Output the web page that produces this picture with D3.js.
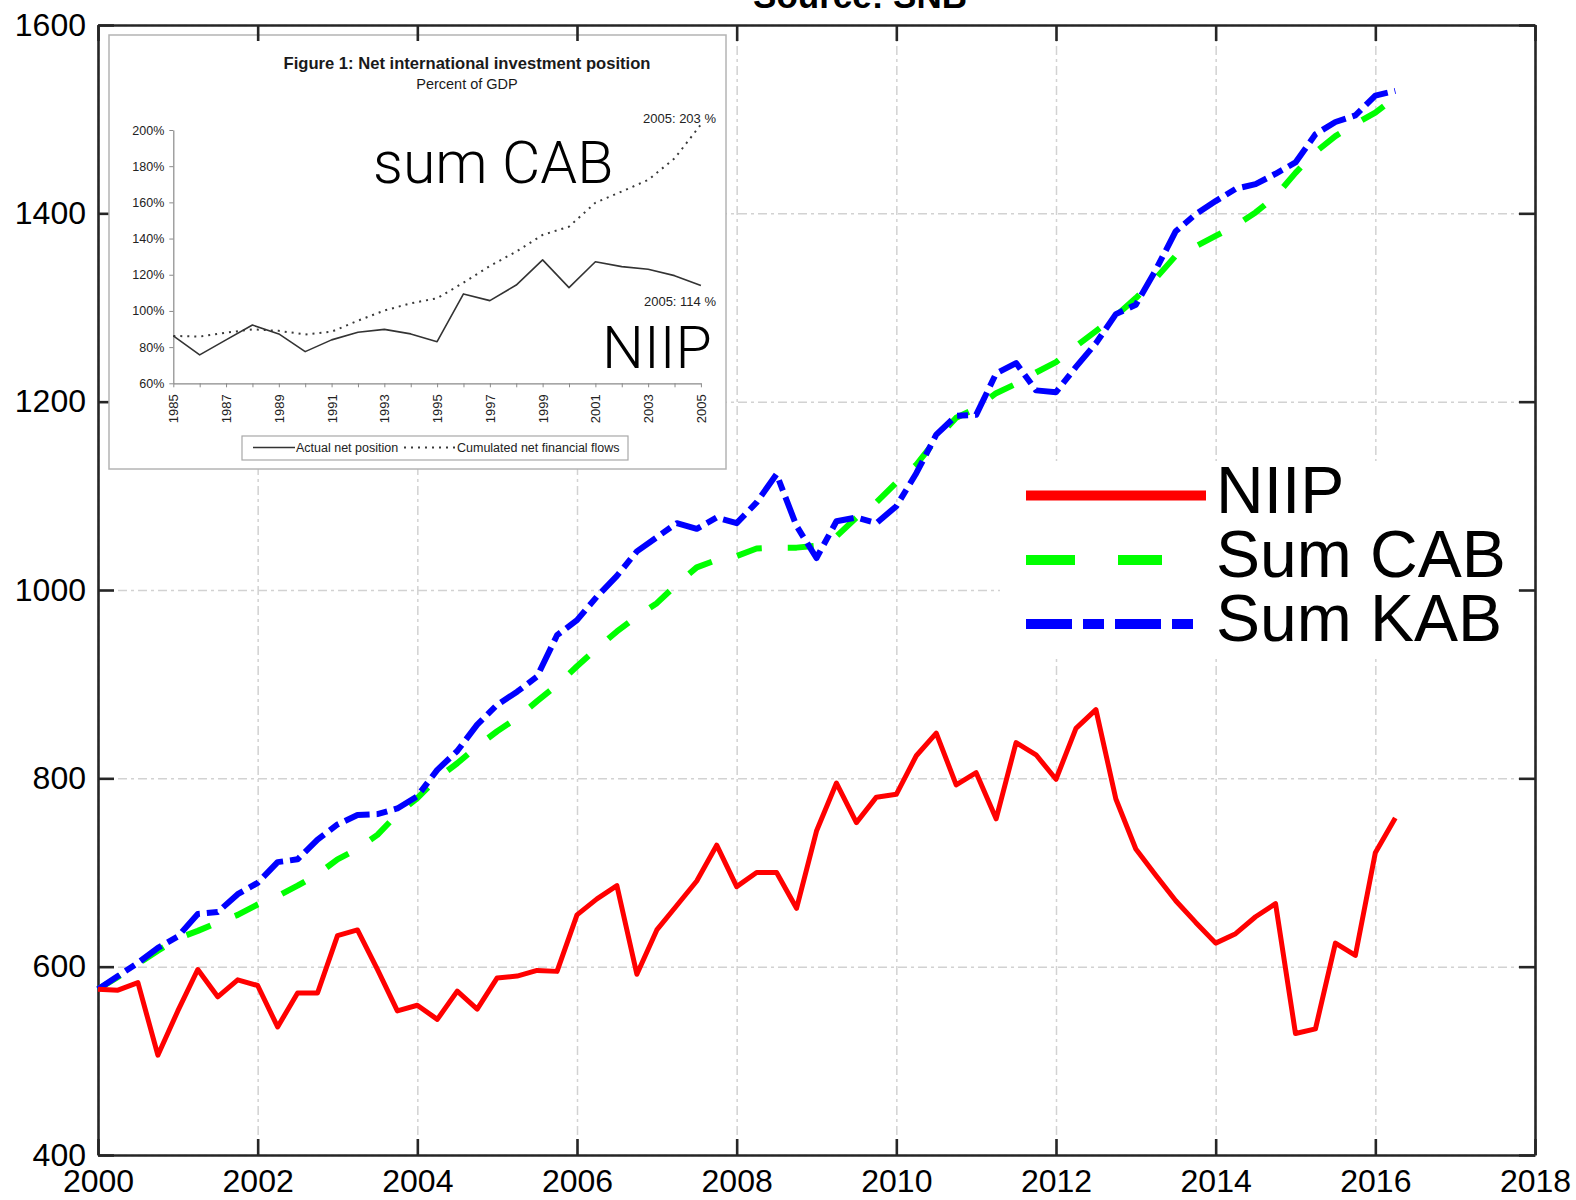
<!DOCTYPE html>
<html>
<head>
<meta charset="utf-8">
<script src="https://cdn.jsdelivr.net/npm/d3@7"></script>
<style>
  body { margin: 0; background: #fff; }
  svg { display: block; }
</style>
</head>
<body>
<svg id="chart" width="1576" height="1200"></svg>
<script>
// ---- Main series: quarterly, CHF bn ----
const quarters = [
  2000.00, 2000.25, 2000.50, 2000.75, 2001.00, 2001.25, 2001.50, 2001.75,
  2002.00, 2002.25, 2002.50, 2002.75, 2003.00, 2003.25, 2003.50, 2003.75,
  2004.00, 2004.25, 2004.50, 2004.75, 2005.00, 2005.25, 2005.50, 2005.75,
  2006.00, 2006.25, 2006.50, 2006.75, 2007.00, 2007.25, 2007.50, 2007.75,
  2008.00, 2008.25, 2008.50, 2008.75, 2009.00, 2009.25, 2009.50, 2009.75,
  2010.00, 2010.25, 2010.50, 2010.75, 2011.00, 2011.25, 2011.50, 2011.75,
  2012.00, 2012.25, 2012.50, 2012.75, 2013.00, 2013.25, 2013.50, 2013.75,
  2014.00, 2014.25, 2014.50, 2014.75, 2015.00, 2015.25, 2015.50, 2015.75,
  2016.00, 2016.25
];
const niip = [
  576, 575, 583, 506, 553, 597, 568, 586,
  580, 536, 572, 572, 633, 639, 597, 553,
  559, 544, 574, 555, 588, 590, 596, 595,
  655, 672, 686, 592, 639, 665, 691, 729,
  685, 700, 700, 662, 744, 795, 753, 780,
  783, 824, 848, 793, 806, 757, 838, 825,
  799, 853, 873, 778, 725, 697, 670, 647,
  625, 635, 653, 667, 529, 534, 625, 612,
  721, 758
];
const sumCAB = [
  576, 589, 603, 617, 630, 638, 647, 655,
  666, 675, 686, 698, 714, 725, 740, 762,
  779, 800, 816, 834, 850, 864, 882, 899,
  919, 938, 956, 972, 986, 1006, 1024, 1032,
  1036, 1044, 1045, 1045, 1047, 1057, 1077, 1093,
  1114, 1133, 1160, 1183, 1193, 1209, 1219, 1231,
  1242, 1259, 1275, 1291, 1310, 1331, 1355, 1365,
  1376, 1387, 1401, 1418, 1443, 1465, 1482, 1495,
  1507, 1523
];
const sumKAB = [
  576, 590, 604, 620, 632, 656, 658, 677,
  689, 711, 714, 735, 751, 761, 762, 768,
  781, 809, 829, 857, 878, 892, 908, 952,
  968, 993, 1015, 1041, 1056, 1071, 1065, 1077,
  1071, 1093, 1123, 1068, 1034, 1073, 1077, 1071,
  1089, 1124, 1165, 1185, 1186, 1230, 1241, 1212,
  1210, 1237, 1262, 1293, 1303, 1340, 1381, 1399,
  1413, 1426, 1431, 1442, 1454, 1484, 1497, 1504,
  1525, 1530
];
const seriesNames = ["NIIP", "Sum CAB", "Sum KAB"];
const xTicks = [2000, 2002, 2004, 2006, 2008, 2010, 2012, 2014, 2016, 2018];
const yTicks = [400, 600, 800, 1000, 1200, 1400, 1600];
const titleText = "Source: SNB";

// ---- Inset figure: percent of GDP, annual ----
const insetYears = [1985, 1986, 1987, 1988, 1989, 1990, 1991, 1992, 1993, 1994, 1995,
                    1996, 1997, 1998, 1999, 2000, 2001, 2002, 2003, 2004, 2005];
const insetActual = [86.2, 75.7, 84.0, 92.2, 87.3, 77.5, 84.0, 88.2, 89.8, 87.3, 83.0,
                     109.4, 105.7, 114.3, 128.2, 112.9, 127.2, 124.5, 123.0, 119.5, 114];
const insetCumulated = [86.2, 85.8, 88.0, 89.8, 89.0, 87.0, 88.5, 94.6, 100.2, 104.2, 107.0,
                        115.6, 124.8, 132.8, 142.0, 146.6, 159.8, 166.0, 172.4, 184.3, 203];
const insetYTicks = [60, 80, 100, 120, 140, 160, 180, 200];
const insetYearLabels = [1985, 1987, 1989, 1991, 1993, 1995, 1997, 1999, 2001, 2003, 2005];
const insetTitle = "Figure 1: Net international investment position";
const insetSubtitle = "Percent of GDP";
const insetSeriesNames = ["Actual net position", "Cumulated net financial flows"];
const insetNotes = ["2005: 203 %", "2005: 114 %"];
const overlayNotes = ["sum CAB", "NIIP"];

(function draw() {
  const FONT = "'Liberation Sans', Arial, Helvetica, sans-serif";
  const LIGHT = "Roboto, 'Open Sans', 'Liberation Sans', sans-serif";
  const pl = 98, pr = 1535, pt = 25, pb = 1155;
  const svg = d3.select("#chart");

  const x = d3.scaleLinear().domain([2000, 2018]).range([pl, pr]);
  const y = d3.scaleLinear().domain([400, 1600]).range([pb, pt]);

  // dashed grid
  const grid = svg.append("g").attr("class", "grid");
  grid.append("g")
    .attr("transform", `translate(0,${pb})`)
    .call(d3.axisBottom(x).tickValues(xTicks).tickSize(-(pb - pt)).tickFormat(""));
  grid.append("g")
    .attr("transform", `translate(${pl},0)`)
    .call(d3.axisLeft(y).tickValues(yTicks).tickSize(-(pr - pl)).tickFormat(""));
  grid.selectAll(".domain").remove();
  grid.selectAll("line")
    .attr("stroke", "#d2d2d2")
    .attr("stroke-width", 1.5)
    .attr("stroke-dasharray", "9,4,3,4");

  function styleAxis(g) {
    g.select(".domain").attr("stroke", "#262626").attr("stroke-width", 2.6);
    g.selectAll(".tick line").attr("stroke", "#262626").attr("stroke-width", 2.6);
    g.selectAll(".tick text").attr("fill", "#000").style("font-family", FONT).style("font-size", "32px");
  }
  svg.append("g")
    .attr("transform", `translate(0,${pb})`)
    .call(d3.axisBottom(x).tickValues(xTicks).tickFormat(d3.format("d"))
      .tickSizeInner(-16).tickSizeOuter(0).tickPadding(14))
    .call(styleAxis);
  svg.append("g")
    .attr("transform", `translate(${pl},0)`)
    .call(d3.axisLeft(y).tickValues(yTicks).tickFormat(d3.format("d"))
      .tickSizeInner(-16).tickSizeOuter(0).tickPadding(12))
    .call(styleAxis);
  svg.append("g")
    .attr("transform", `translate(${pr},0)`)
    .call(d3.axisRight(y).tickValues(yTicks).tickFormat("")
      .tickSizeInner(-16).tickSizeOuter(0))
    .call(styleAxis);

  // ---- Inset figure ----
  const inset = svg.append("g").attr("class", "inset");
  inset.append("rect")
    .attr("x", 109).attr("y", 35).attr("width", 617).attr("height", 434)
    .attr("fill", "#fff").attr("stroke", "#b4b4b4").attr("stroke-width", 1.5);

  inset.append("text")
    .attr("x", 467).attr("y", 69).attr("text-anchor", "middle")
    .style("font-family", FONT).style("font-size", "16.6px").style("font-weight", "bold")
    .attr("fill", "#1a1a1a").text(insetTitle);
  inset.append("text")
    .attr("x", 467).attr("y", 89).attr("text-anchor", "middle")
    .style("font-family", FONT).style("font-size", "14.5px")
    .attr("fill", "#1a1a1a").text(insetSubtitle);

  const ix = d3.scaleLinear().domain([1985, 2005]).range([173.3, 700.9]);
  const iy = d3.scaleLinear().domain([60, 200]).range([383.3, 130]);

  const iyAxis = inset.append("g")
    .attr("transform", `translate(${ix(1985)},0)`)
    .call(d3.axisLeft(iy).tickValues(insetYTicks).tickFormat(d => d + "%")
      .tickSizeInner(4).tickSizeOuter(0).tickPadding(5));
  const ixAxis = inset.append("g")
    .attr("transform", `translate(0,${iy(60)})`)
    .call(d3.axisBottom(ix).tickValues(insetYears)
      .tickFormat(d => insetYearLabels.includes(d) ? String(d) : "")
      .tickSizeInner(4).tickSizeOuter(0));
  [iyAxis, ixAxis].forEach(g => {
    g.select(".domain").attr("stroke", "#8a8a8a").attr("stroke-width", 1.2);
    g.selectAll(".tick line").attr("stroke", "#8a8a8a").attr("stroke-width", 1);
    g.selectAll(".tick text").attr("fill", "#222").style("font-family", FONT).style("font-size", "12.5px");
  });
  ixAxis.selectAll(".tick text")
    .attr("transform", "rotate(-90)")
    .attr("text-anchor", "end")
    .attr("x", -11).attr("y", 0).attr("dy", "0.35em")
    .style("font-size", "13px");

  const iline = d3.line().x((d, i) => ix(insetYears[i])).y(d => iy(d));
  inset.append("path").datum(insetCumulated)
    .attr("d", iline).attr("fill", "none")
    .attr("stroke", "#3a3a3a").attr("stroke-width", 2)
    .attr("stroke-dasharray", "2,5");
  inset.append("path").datum(insetActual)
    .attr("d", iline).attr("fill", "none")
    .attr("stroke", "#333").attr("stroke-width", 1.6)
    .attr("stroke-linejoin", "round");

  inset.append("text").attr("x", 716).attr("y", 123).attr("text-anchor", "end")
    .style("font-family", FONT).style("font-size", "13px").attr("fill", "#222").text(insetNotes[0]);
  inset.append("text").attr("x", 716).attr("y", 306).attr("text-anchor", "end")
    .style("font-family", FONT).style("font-size", "13px").attr("fill", "#222").text(insetNotes[1]);

  // inset legend
  inset.append("rect").attr("x", 242).attr("y", 436).attr("width", 386).attr("height", 24)
    .attr("fill", "#fff").attr("stroke", "#a8a8a8").attr("stroke-width", 1.2);
  inset.append("line").attr("x1", 253).attr("x2", 295).attr("y1", 447.5).attr("y2", 447.5)
    .attr("stroke", "#333").attr("stroke-width", 1.6);
  inset.append("text").attr("x", 296).attr("y", 452)
    .style("font-family", FONT).style("font-size", "12.5px").attr("fill", "#222").text(insetSeriesNames[0]);
  inset.append("line").attr("x1", 404).attr("x2", 456).attr("y1", 447.5).attr("y2", 447.5)
    .attr("stroke", "#3a3a3a").attr("stroke-width", 2).attr("stroke-dasharray", "2,5");
  inset.append("text").attr("x", 457).attr("y", 452)
    .style("font-family", FONT).style("font-size", "12.5px").attr("fill", "#222").text(insetSeriesNames[1]);

  // hand labels written over the inset
  inset.append("text").attr("x", 373).attr("y", 183)
    .style("font-family", LIGHT).style("font-weight", 300).style("font-size", "59px")
    .attr("fill", "#000").text(overlayNotes[0]);
  inset.append("text").attr("x", 602).attr("y", 368)
    .style("font-family", LIGHT).style("font-weight", 300).style("font-size", "59px")
    .attr("fill", "#000").text(overlayNotes[1]);

  // top axis sits over the inset frame
  svg.append("g")
    .attr("transform", `translate(0,${pt})`)
    .call(d3.axisTop(x).tickValues(xTicks).tickFormat("")
      .tickSizeInner(-16).tickSizeOuter(0))
    .call(styleAxis);

  // ---- Series lines ----
  const line = d3.line()
    .x((d, i) => x(quarters[i]))
    .y(d => y(d));

  const styles = [
    { data: niip,   color: "#ff0000", width: 5, dash: null },
    { data: sumCAB, color: "#00ff00", width: 6, dash: "26,26" },
    { data: sumKAB, color: "#0000ff", width: 6, dash: "26,7,11,7" }
  ];
  // draw order: green, blue, red
  [1, 2, 0].forEach(k => {
    const s = styles[k];
    svg.append("path").datum(s.data)
      .attr("d", line)
      .attr("fill", "none")
      .attr("stroke", s.color)
      .attr("stroke-width", s.width)
      .attr("stroke-linejoin", "round")
      .attr("stroke-dasharray", s.dash);
  });

  // ---- Legend ----
  const legend = svg.append("g").attr("class", "legend");
  legend.append("rect").attr("x", 1000).attr("y", 461).attr("width", 518).attr("height", 194)
    .attr("fill", "#fff");
  const legendRows = [
    { ly: 495.5, x2: 1206, dash: null },
    { ly: 560,   x2: 1162, dash: "49,43" },
    { ly: 624,   x2: 1194, dash: "46,11,21,11" }
  ];
  legendRows.forEach((r, k) => {
    legend.append("line")
      .attr("x1", 1026).attr("x2", r.x2).attr("y1", r.ly).attr("y2", r.ly)
      .attr("stroke", styles[k].color).attr("stroke-width", 10)
      .attr("stroke-dasharray", r.dash);
    legend.append("text")
      .attr("x", 1216).attr("y", r.ly + 17)
      .style("font-family", FONT).style("font-size", "66px")
      .attr("fill", "#000").text(seriesNames[k]);
  });

  // ---- Title (cropped at the top edge) ----
  svg.append("text")
    .attr("x", 860).attr("y", 8).attr("text-anchor", "middle")
    .style("font-family", FONT).style("font-size", "35px").style("font-weight", "bold")
    .attr("fill", "#000").text(titleText);
})();
</script>
</body>
</html>
